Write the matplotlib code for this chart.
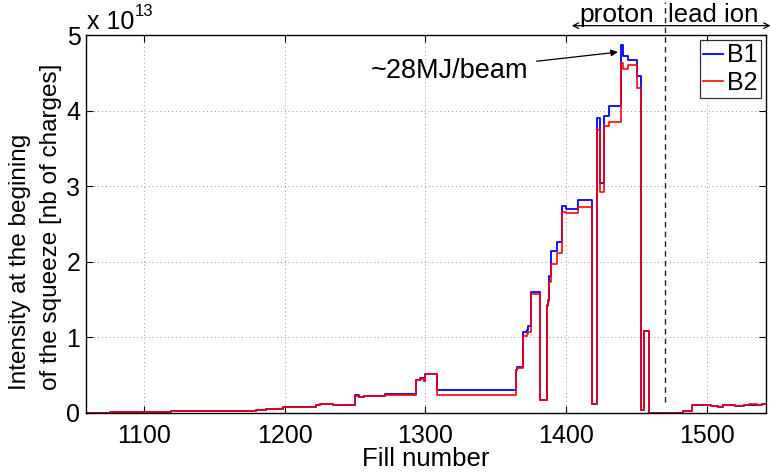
import matplotlib
matplotlib.use("Agg")
import matplotlib.pyplot as plt

plt.rcParams['font.family'] = ['Liberation Sans', 'DejaVu Sans']

# Intensity values are in units of 1e13 charges
EXPONENT = 13

fill_number = [1059, 1076, 1100, 1119, 1180, 1187, 1199, 1222, 1225, 1234,
               1250, 1253, 1256, 1271, 1286, 1293, 1296, 1299, 1300, 1308,
               1364, 1365, 1369, 1372, 1373, 1375, 1381, 1386, 1387, 1388,
               1389, 1393, 1397, 1400, 1408, 1418, 1422, 1424, 1427, 1430,
               1439, 1440, 1444, 1450, 1453, 1455, 1459, 1483, 1489, 1492,
               1496, 1503, 1508, 1511, 1520, 1526, 1530, 1535, 1539, 1541]

beam1 = [0.0, 0.01, 0.013, 0.027, 0.04, 0.057, 0.076, 0.10, 0.12, 0.106,
         0.235, 0.21, 0.22, 0.25, 0.25, 0.44, 0.46, 0.43, 0.52, 0.30,
         0.57, 0.61, 1.07, 1.10, 1.15, 1.60, 0.17, 1.43, 1.50, 1.81,
         2.14, 2.26, 2.74, 2.70, 2.82, 0.12, 3.91, 3.04, 3.94, 4.07,
         4.87, 4.73, 4.67, 4.46, 0.04, 1.08, 0.0, 0.03, 0.10, 0.11,
         0.10, 0.095, 0.085, 0.10, 0.09, 0.10, 0.11, 0.105, 0.12, 0.12]

beam2 = [0.0, 0.01, 0.013, 0.027, 0.04, 0.057, 0.078, 0.10, 0.12, 0.106,
         0.226, 0.21, 0.22, 0.245, 0.232, 0.44, 0.455, 0.43, 0.52, 0.24,
         0.57, 0.60, 1.02, 1.05, 1.07, 1.57, 0.17, 1.42, 1.49, 1.74,
         1.97, 2.12, 2.66, 2.65, 2.73, 0.12, 3.75, 2.93, 3.80, 3.86,
         4.64, 4.56, 4.61, 4.31, 0.04, 1.08, 0.0, 0.03, 0.105, 0.105,
         0.10, 0.09, 0.08, 0.10, 0.095, 0.10, 0.115, 0.10, 0.12, 0.12]

x_ticks = [1100, 1200, 1300, 1400, 1500]
y_ticks = [0, 1, 2, 3, 4, 5]
ion_switch_fill = 1470

fig = plt.figure(figsize=(7.7, 4.72), dpi=100)
ax = fig.add_axes([0.1117, 0.125, 0.8827, 0.7998])

ax.step(fill_number, beam1, where='post', color='#0000ff', lw=1.3, label='B1')
ax.step(fill_number, beam2, where='post', color='#ff0000', lw=1.3, alpha=0.9, label='B2')

ax.set_xlim(1059, 1541.5)
ax.set_ylim(0, 5)
ax.set_xticks(x_ticks)
ax.set_yticks(y_ticks)
ax.tick_params(direction='in', length=5, width=0.8, top=True, right=True,
               labelsize=18, colors='black')
ax.tick_params(axis='x', pad=8)
ax.tick_params(axis='y', pad=4)
ax.grid(True, linestyle=(0, (1, 3)), color='#9a9a9a', lw=0.7)
for s in ax.spines.values():
    s.set_linewidth(1.0)

# proton / lead ion separator and labels
ax.plot([ion_switch_fill, ion_switch_fill], [0.15, 5.45], ls=(0, (4, 3)),
        color='#222222', lw=1.0, clip_on=False)
ax.annotate('', xy=(1403.8, 5.13), xytext=(1545, 5.13),
            arrowprops=dict(arrowstyle='<->', color='black', lw=0.9,
                            shrinkA=0, shrinkB=0, mutation_scale=10),
            annotation_clip=False)
ax.text(1436, 5.27, 'proton', ha='center', va='center', fontsize=19,
        clip_on=False)
ax.text(1504, 5.27, 'lead ion', ha='center', va='center', fontsize=18.5,
        clip_on=False)

ax.annotate('~28MJ/beam', xy=(1436.6, 4.78), xytext=(1373, 4.53),
            fontsize=19.5, ha='right', va='center',
            arrowprops=dict(arrowstyle='-|>', color='black', lw=0.9,
                            shrinkA=4, shrinkB=0, mutation_scale=10))

ax.text(0.002, 1.004, 'x 10', transform=ax.transAxes,
        fontsize=18, ha='left', va='bottom')
ax.text(0.072, 1.045, str(EXPONENT), transform=ax.transAxes,
        fontsize=12, ha='left', va='bottom')

leg = ax.legend(loc='upper right', fontsize=18, frameon=True, fancybox=False,
                handlelength=0.8, handletextpad=0.15, borderpad=0.12,
                labelspacing=0.15, borderaxespad=0.2)
leg.get_frame().set_edgecolor('black')
leg.get_frame().set_linewidth(0.9)

ax.set_xlabel('Fill number', fontsize=18.5, labelpad=-1)
fig.text(0.026, 0.174, 'Intensity at the begining', rotation=90,
         ha='center', va='bottom', fontsize=17.5)
fig.text(0.066, 0.174, 'of the squeeze [nb of charges]', rotation=90,
         ha='center', va='bottom', fontsize=17.5)

fig.savefig('out.png', dpi=100)
